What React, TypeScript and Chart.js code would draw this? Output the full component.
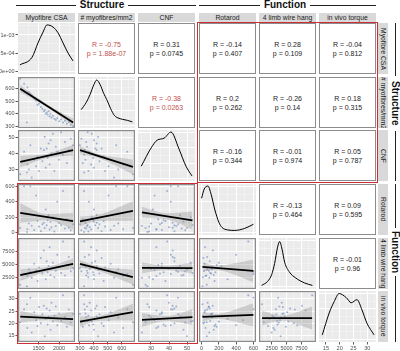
import React, { useEffect, useRef } from 'react';
import { Chart, registerables } from 'chart.js';

Chart.register(...registerables);

// ---------------- data ----------------
const varNames = ['Myofibre CSA', '# myofibres/mm2', 'CNF', 'Rotarod', '4 limb wire hang', 'in vivo torque'];
const groupNames = ['Structure', 'Function'];

const myofibreCSA = [1054, 1148, 1230, 1265, 1300, 1335, 1394, 1441, 1476, 1511, 1558, 1594, 1629, 1652, 1676, 1699, 1723, 1746, 1770, 1793, 1816, 1852, 1887, 1922, 1957, 2004, 2051, 2098, 2145, 2192, 2239, 2286, 2344, 1218];
const myofibresPerMm2 = [680, 640, 610, 575, 560, 545, 520, 505, 470, 480, 455, 440, 420, 430, 400, 410, 395, 420, 380, 400, 370, 385, 360, 350, 365, 340, 355, 330, 345, 320, 335, 310, 300, 330];
const cnf = [27, 41, 33, 30, 45, 25, 36, 32, 38, 29, 43, 35, 42, 50, 31, 43, 37, 46, 33, 48, 40, 52, 29, 44, 41, 36, 53, 39, 47, 34, 42, 49, 45, 28];
const rotarod = [60, 600, 45, 120, 600, 90, 35, 480, 150, 80, 20, 110, 130, 60, 300, 95, 160, 230, 40, 140, 70, 200, 15, 85, 400, 125, 100, 540, 55, 175, 65, 30, 110, 10];
const wireHang = [1200, 3200, 2800, 4100, 3600, 2500, 5100, 3900, 1900, 4400, 6200, 3300, 7600, 4000, 2200, 5600, 3500, 4700, 8200, 3000, 4200, 5300, 2600, 3800, 6800, 4500, 3400, 9300, 2900, 4900, 6400, 3700, 4300, 900];
const torque = [20.5, 25.8, 18.2, 22.4, 30.5, 16.4, 24.6, 21.3, 19.0, 26.7, 20.1, 23.8, 27.2, 14.8, 21.9, 26.1, 19.6, 22.9, 25.3, 17.5, 28.4, 20.8, 23.2, 26.9, 19.3, 24.1, 21.0, 31.5, 22.6, 18.7, 25.7, 20.4, 23.9, 27.8];
const allVars = [myofibreCSA, myofibresPerMm2, cnf, rotarod, wireHang, torque];

// axis ranges and ticks per variable
const varRanges = [[1000, 2390], [286, 695], [22.8, 54.4], [-30, 630], [380, 9950], [12.5, 33.2]];
const majorTicks = [[1500, 2000], [300, 400, 500, 600], [30, 40, 50], [0, 200, 400, 600], [2500, 5000, 7500], [15, 20, 25, 30]];
const minorTicks = [[1250, 1750, 2250], [350, 450, 550, 650], [25, 35, 45], [100, 300, 500], [1250, 3750, 6250, 8750], [17.5, 22.5, 27.5, 32.5]];

// density panel (top-left) y axis
const densRange = [-0.000083, 0.001333];
const densMajor = [0, 0.0005, 0.001];
const densLabels = ['0e+00', '5e-04', '1e-03'];
const densMinor = [0.00025, 0.00075, 0.00125];
// relative density grid for other diagonal panels
const relMajor = [0.05, 0.35, 0.65, 0.95];
const relMinor = [0.2, 0.5, 0.8];

// density curves (x in variable units; y: real density for CSA, relative height for others)
const densCSAx = [1049, 1342, 1488, 1610, 1708, 1854, 1976, 2098, 2220, 2342];
const densCSAy = [0.00017, 0.00038, 0.00078, 0.00108, 0.00128, 0.00122, 0.00106, 0.00078, 0.0005, 0.00028];
const densMyoX = [309, 345, 373, 400, 420, 445, 470, 492, 520, 549, 580, 606, 640, 676];
const densMyoY = [0.36, 0.5, 0.66, 0.85, 0.94, 0.85, 0.68, 0.56, 0.38, 0.24, 0.19, 0.17, 0.15, 0.12];
const densCNFx = [24.6, 30.1, 33.4, 37.3, 41.1, 45.5, 49.4, 52.7];
const densCNFy = [0.29, 0.65, 0.8, 0.84, 0.96, 0.63, 0.29, 0.1];
const densRotX = [0, 30, 74, 110, 154, 200, 235, 300, 385, 500, 600];
const densRotY = [0.72, 0.9, 0.96, 0.8, 0.49, 0.25, 0.15, 0.1, 0.09, 0.13, 0.21];
const densWireX = [830, 1830, 2500, 3000, 3500, 3850, 4250, 4700, 5500, 6500, 8000, 9350];
const densWireY = [0.07, 0.15, 0.28, 0.5, 0.82, 0.93, 0.78, 0.52, 0.33, 0.22, 0.12, 0.07];
const densTorqueX = [13.7, 16.2, 18.0, 19.8, 22.4, 24.2, 26.3, 28.1, 29.9, 32.5];
const densTorqueY = [0.14, 0.57, 0.79, 0.95, 0.87, 0.77, 0.83, 0.63, 0.37, 0.14];
const densX = [densCSAx, densMyoX, densCNFx, densRotX, densWireX, densTorqueX];
const densY = [densCSAy, densMyoY, densCNFy, densRotY, densWireY, densTorqueY];

// lower panels (row, col) and their lm fits
const lowerPairs = [[1, 0], [2, 0], [2, 1], [3, 0], [3, 1], [3, 2], [4, 0], [4, 1], [4, 2], [4, 3], [5, 0], [5, 1], [5, 2], [5, 3], [5, 4]];
const fitAtMin = [600, 34.7, 41.9, 255, 146, 264, 3000, 5100, 4350, 4530, 22.8, 20.8, 21.5, 22.7, 22.2];
const fitAtMax = [330, 41.9, 31.5, 150, 281, 158, 5100, 2600, 4300, 3770, 21.8, 24.6, 22.6, 23.5, 22.2];
const bandAtMin = [30, 3.6, 2.5, 127, 62, 70, 1100, 700, 1000, 850, 2.4, 2.0, 2.8, 1.9, 3.0];
const bandAtMean = [12, 1.3, 1.2, 40, 40, 40, 450, 450, 450, 450, 1.0, 1.0, 1.0, 1.0, 1.0];
const bandAtMax = [30, 3.3, 4.5, 105, 127, 115, 1000, 1400, 1000, 2100, 3.0, 3.4, 3.2, 4.7, 4.7];

// upper panels: correlations
const upperPairs = [[0, 1], [0, 2], [0, 3], [0, 4], [0, 5], [1, 2], [1, 3], [1, 4], [1, 5], [2, 3], [2, 4], [2, 5], [3, 4], [3, 5], [4, 5]];
const corrR = ['-0.75', '0.31', '-0.14', '0.28', '-0.04', '-0.38', '0.2', '-0.26', '0.18', '-0.16', '-0.01', '0.05', '-0.13', '0.09', '-0.01'];
const corrP = ['1.88e-07', '0.0745', '0.407', '0.109', '0.812', '0.0263', '0.262', '0.14', '0.315', '0.344', '0.974', '0.787', '0.464', '0.595', '0.96'];

// ---------------- layout ----------------
const colX = [18, 78, 138, 199, 259, 319];
const rowY = [23, 77, 130, 184, 238, 291];
const PW = 57;
const PH = 51;
const AXW = 18;
const AXH = 9;
const M = 10;
const FONT = '"Liberation Sans", Arial, sans-serif';
const RED = '#CC2F36';

const panelBg = {
  id: 'panelBg',
  beforeDraw(chart: any, _args: any, opts: any) {
    const { ctx, chartArea: a } = chart;
    ctx.save();
    ctx.fillStyle = opts.color || '#EBEBEB';
    ctx.fillRect(a.left, a.top, a.right - a.left, a.bottom - a.top);
    ctx.restore();
  },
  afterDraw(chart: any, _args: any, opts: any) {
    if (!opts.border) return;
    const { ctx, chartArea: a } = chart;
    ctx.save();
    ctx.strokeStyle = '#8C8C8C';
    ctx.lineWidth = 1.2;
    ctx.strokeRect(a.left + 0.6, a.top + 0.6, a.right - a.left - 1.2, a.bottom - a.top - 1.2);
    ctx.restore();
  },
};

function makeAxis(axis: 'x' | 'y', range: number[], major: number[], minor: number[], labels: string[], show: boolean) {
  const isMinor = (v: number) => !major.includes(v);
  const all = [...major, ...minor].sort((a, b) => a - b);
  return {
    type: 'linear',
    min: range[0],
    max: range[1],
    afterBuildTicks: (scale: any) => {
      scale.ticks = all.map((v) => ({ value: v }));
    },
    afterFit: (scale: any) => {
      if (axis === 'x') scale.height = show ? AXH : 0;
      else scale.width = show ? AXW : 0;
      scale.paddingLeft = 0;
      scale.paddingRight = 0;
      scale.paddingTop = 0;
      scale.paddingBottom = 0;
    },
    grid: {
      color: (ctx: any) => (ctx.tick && isMinor(ctx.tick.value) ? 'rgba(255,255,255,0.6)' : '#FFFFFF'),
      lineWidth: (ctx: any) => (ctx.tick && isMinor(ctx.tick.value) ? 0.5 : 1),
      drawTicks: show,
      tickLength: 2.5,
      tickColor: (ctx: any) => (ctx.tick && isMinor(ctx.tick.value) ? 'rgba(0,0,0,0)' : '#333333'),
      tickWidth: 0.8,
    },
    border: { display: false },
    ticks: {
      display: show,
      autoSkip: false,
      maxRotation: 0,
      minRotation: 0,
      padding: 1,
      color: '#4D4D4D',
      font: { size: 5.5, family: FONT },
      callback: (v: number) => (isMinor(v) ? '' : labels[major.indexOf(v)]),
    },
  };
}

type PanelSpec = { r: number; c: number; kind: 'diag' | 'scatter' };
const chartPanels: PanelSpec[] = [
  ...[0, 1, 2, 3, 4, 5].map((i) => ({ r: i, c: i, kind: 'diag' as const })),
  ...lowerPairs.map(([r, c]) => ({ r, c, kind: 'scatter' as const })),
];

function geom(p: PanelSpec) {
  const extraL = p.c === 0 ? AXW : 0;
  const extraB = p.r === 5 ? AXH : 0;
  return {
    left: colX[p.c] - M - extraL,
    top: rowY[p.r] - M,
    width: PW + 2 * M + extraL,
    height: PH + 2 * M + extraB,
  };
}

const mean = (a: number[]) => a.reduce((s, v) => s + v, 0) / a.length;

function buildConfig(p: PanelSpec): any {
  const showY = p.c === 0;
  const showX = p.r === 5;
  const xv = p.c;
  const xAxis = makeAxis('x', varRanges[xv], majorTicks[xv], minorTicks[xv], majorTicks[xv].map(String), showX);
  let yAxis: any;
  const datasets: any[] = [];
  if (p.kind === 'diag') {
    if (p.r === 0) yAxis = makeAxis('y', densRange, densMajor, densMinor, densLabels, showY);
    else yAxis = makeAxis('y', [0, 1], relMajor, relMinor, relMajor.map(String), showY);
    datasets.push({
      data: densX[p.r].map((x, k) => ({ x, y: densY[p.r][k] })),
      borderColor: '#000000',
      borderWidth: 1,
      pointRadius: 0,
      cubicInterpolationMode: 'monotone',
      fill: false,
    });
  } else {
    const yv = p.r;
    yAxis = makeAxis('y', varRanges[yv], majorTicks[yv], minorTicks[yv], majorTicks[yv].map(String), showY);
    const xs = allVars[xv];
    const ys = allVars[yv];
    const f = lowerPairs.findIndex(([r, c]) => r === p.r && c === p.c);
    const xmin = Math.min(...xs);
    const xmax = Math.max(...xs);
    const xm = mean(xs);
    const yL = fitAtMin[f];
    const yR = fitAtMax[f];
    const yM = yL + ((yR - yL) * (xm - xmin)) / (xmax - xmin);
    datasets.push({
      data: [
        { x: xmin, y: yL + bandAtMin[f] },
        { x: xm, y: yM + bandAtMean[f] },
        { x: xmax, y: yR + bandAtMax[f] },
      ],
      borderWidth: 0,
      borderColor: 'rgba(0,0,0,0)',
      backgroundColor: 'rgba(153,153,153,0.38)',
      pointRadius: 0,
      cubicInterpolationMode: 'monotone',
      fill: '+1',
      order: 2,
    });
    datasets.push({
      data: [
        { x: xmin, y: yL - bandAtMin[f] },
        { x: xm, y: yM - bandAtMean[f] },
        { x: xmax, y: yR - bandAtMax[f] },
      ],
      borderWidth: 0,
      borderColor: 'rgba(0,0,0,0)',
      pointRadius: 0,
      cubicInterpolationMode: 'monotone',
      fill: false,
      order: 2,
    });
    datasets.push({
      data: [
        { x: xmin, y: yL },
        { x: xmax, y: yR },
      ],
      borderColor: '#000000',
      borderWidth: 1.8,
      pointRadius: 0,
      fill: false,
      order: 1,
    });
    datasets.push({
      data: xs.map((x, k) => ({ x, y: ys[k] })),
      showLine: false,
      pointRadius: 1,
      pointBorderWidth: 0,
      pointBackgroundColor: 'rgba(105,135,190,0.6)',
      fill: false,
      order: 3,
    });
  }
  return {
    type: 'line',
    data: { datasets },
    plugins: [panelBg],
    options: {
      responsive: false,
      maintainAspectRatio: false,
      animation: false,
      events: [],
      layout: { padding: { left: M, right: M, top: M, bottom: M } },
      plugins: {
        legend: { display: false },
        tooltip: { enabled: false },
        panelBg: { color: '#EBEBEB', border: p.kind === 'scatter' },
      },
      scales: { x: xAxis, y: yAxis },
    },
  };
}

export default function App() {
  const refs = useRef<(HTMLCanvasElement | null)[]>([]);

  useEffect(() => {
    const charts = chartPanels.map((p, k) => new Chart(refs.current[k] as HTMLCanvasElement, buildConfig(p)));
    return () => charts.forEach((c) => c.destroy());
  }, []);

  const abs = (s: any) => ({ position: 'absolute' as const, ...s });

  return (
    <div style={{ position: 'fixed', left: 0, top: 0, width: 400, height: 351, background: '#FFFFFF', fontFamily: FONT, overflow: 'hidden' }}>
      {/* top group headers */}
      <div style={abs({ left: 16, top: 5, width: 60, height: 1, background: '#222' })} />
      <div style={abs({ left: 77, top: -1, width: 50, height: 12, fontSize: 10, fontWeight: 'bold', lineHeight: '12px', textAlign: 'center', color: '#111' })}>{groupNames[0]}</div>
      <div style={abs({ left: 128, top: 5, width: 68, height: 1, background: '#222' })} />
      <div style={abs({ left: 199, top: 5, width: 61, height: 1, background: '#222' })} />
      <div style={abs({ left: 260, top: -1, width: 50, height: 12, fontSize: 10, fontWeight: 'bold', lineHeight: '12px', textAlign: 'center', color: '#111' })}>{groupNames[1]}</div>
      <div style={abs({ left: 310, top: 5, width: 66, height: 1, background: '#222' })} />

      {/* right group headers */}
      <div style={abs({ left: 395, top: 23, width: 1, height: 53, background: '#222' })} />
      <div style={abs({ left: 389, top: 78, width: 12, height: 50, fontSize: 10, fontWeight: 'bold', lineHeight: '12px', writingMode: 'vertical-rl', textAlign: 'center', color: '#111' })}>{groupNames[0]}</div>
      <div style={abs({ left: 395, top: 131, width: 1, height: 50, background: '#222' })} />
      <div style={abs({ left: 395, top: 184, width: 1, height: 44, background: '#222' })} />
      <div style={abs({ left: 389, top: 230, width: 12, height: 44, fontSize: 10, fontWeight: 'bold', lineHeight: '12px', writingMode: 'vertical-rl', textAlign: 'center', color: '#111' })}>{groupNames[1]}</div>
      <div style={abs({ left: 395, top: 276, width: 1, height: 66, background: '#222' })} />

      {/* strips */}
      {varNames.map((n, c) => (
        <div key={'ts' + c} style={abs({ left: colX[c], top: 13, width: PW, height: 9, background: '#D9D9D9', fontSize: 6.8, lineHeight: '9px', textAlign: 'center', color: '#1A1A1A', whiteSpace: 'nowrap', overflow: 'hidden' })}>{n}</div>
      ))}
      {varNames.map((n, r) => (
        <div key={'rs' + r} style={abs({ left: 378, top: rowY[r], width: 10, height: PH, background: '#D9D9D9', fontSize: 6.8, lineHeight: '10px', writingMode: 'vertical-rl', textAlign: 'center', color: '#1A1A1A', whiteSpace: 'nowrap', overflow: 'hidden' })}>{n}</div>
      ))}

      {/* correlation text panels */}
      {upperPairs.map(([r, c], k) => {
        const sig = parseFloat(corrP[k]) < 0.05;
        return (
          <div key={'u' + k} style={abs({ left: colX[c], top: rowY[r], width: PW, height: PH, background: '#FFFFFF', border: '1.5px solid #8C8C8C', boxSizing: 'border-box', display: 'flex', flexDirection: 'column', alignItems: 'center', justifyContent: 'center', fontSize: 7, lineHeight: '9px', color: sig ? '#C0504D' : '#1A1A1A', whiteSpace: 'nowrap' })}>
            <div>R = {corrR[k]}</div>
            <div>p = {corrP[k]}</div>
          </div>
        );
      })}

      {/* chart panels */}
      {chartPanels.map((p, k) => {
        const g = geom(p);
        return (
          <canvas
            key={'c' + k}
            ref={(el) => {
              refs.current[k] = el;
            }}
            width={g.width}
            height={g.height}
            style={abs({ left: g.left, top: g.top, width: g.width, height: g.height })}
          />
        );
      })}

      {/* red highlight boxes */}
      <div style={abs({ left: 197, top: 22, width: 181, height: 161, border: '1.6px solid ' + RED, boxSizing: 'border-box', pointerEvents: 'none' })} />
      <div style={abs({ left: 16.5, top: 182.5, width: 181, height: 161, border: '1.6px solid ' + RED, boxSizing: 'border-box', pointerEvents: 'none' })} />
    </div>
  );
}
